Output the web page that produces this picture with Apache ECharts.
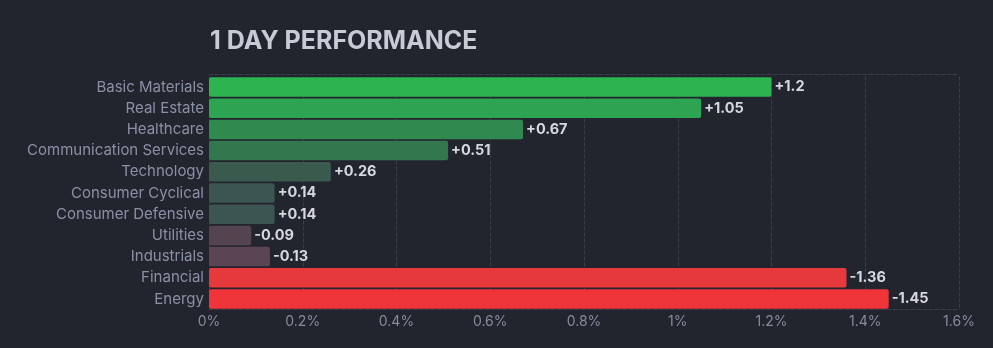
<!DOCTYPE html>
<html>
<head>
<meta charset="utf-8">
<script src="https://cdn.jsdelivr.net/npm/echarts@6/dist/echarts.min.js"></script>
<style>
html,body{margin:0;padding:0;background:#22252e;}
#c{width:993px;height:348px;}
</style>
</head>
<body>
<div id="c"></div>
<script>
const titleText = '1 DAY PERFORMANCE';
const categories = ['Basic Materials','Real Estate','Healthcare','Communication Services','Technology','Consumer Cyclical','Consumer Defensive','Utilities','Industrials','Financial','Energy'];
const values = [1.2, 1.05, 0.67, 0.51, 0.26, 0.14, 0.14, -0.09, -0.13, -1.36, -1.45];
const barColors = ['#2eb351','#2da451','#30894f','#33774e','#3a5a4e','#3b5651','#3b5651','#54444f','#5b4554','#e5393c','#ef3539'];
const xMin = 0, xMax = 1.6, xStep = 0.2;

const chart = echarts.init(document.getElementById('c'));
const font = 'Inter, "Noto Sans", sans-serif';
chart.setOption({
  backgroundColor: '#22252e',
  animation: false,
  title: {
    text: titleText, left: 205, top: 24,
    textStyle: {color: '#c8cad6', fontSize: 25, fontWeight: 'bold', fontFamily: font}
  },
  grid: {left: 209, right: 34, top: 76.4, bottom: 38.4, containLabel: false},
  xAxis: [{
    type: 'value', min: xMin, max: xMax, interval: xStep, position: 'bottom',
    axisLine: {show: true, lineStyle: {color: '#3a3e4b', type: 'dashed'}},
    axisTick: {show: false},
    axisLabel: {color: '#868ba0', fontSize: 14, fontFamily: font, margin: 5,
      formatter: v => (Math.round(v*10)/10) + '%'},
    splitLine: {show: true, lineStyle: {color: '#3a3e4b', type: 'dashed'}}
  },{
    type: 'value', min: xMin, max: xMax, interval: xStep, position: 'top', offset: 2,
    axisLine: {show: true, lineStyle: {color: '#3a3e4b', type: 'dashed'}},
    axisTick: {show: false}, axisLabel: {show: false}, splitLine: {show: false}
  }],
  yAxis: {
    type: 'category', data: categories, inverse: true,
    axisLine: {show: false}, axisTick: {show: false},
    axisLabel: {color: '#8b90a6', fontSize: 15, fontFamily: font, margin: 5}
  },
  series: [{
    type: 'bar',
    xAxisIndex: 0,
    data: values.map((v, i) => ({value: Math.abs(v), itemStyle: {color: barColors[i]}})),
    barWidth: 19.5,
    itemStyle: {borderRadius: 2},
    label: {
      show: true, position: 'right', distance: 3,
      color: '#d7d8df', fontSize: 14.5, fontWeight: 'bold', fontFamily: font,
      formatter: p => (values[p.dataIndex] > 0 ? '+' : '') + values[p.dataIndex]
    }
  }]
});
</script>
</body>
</html>
